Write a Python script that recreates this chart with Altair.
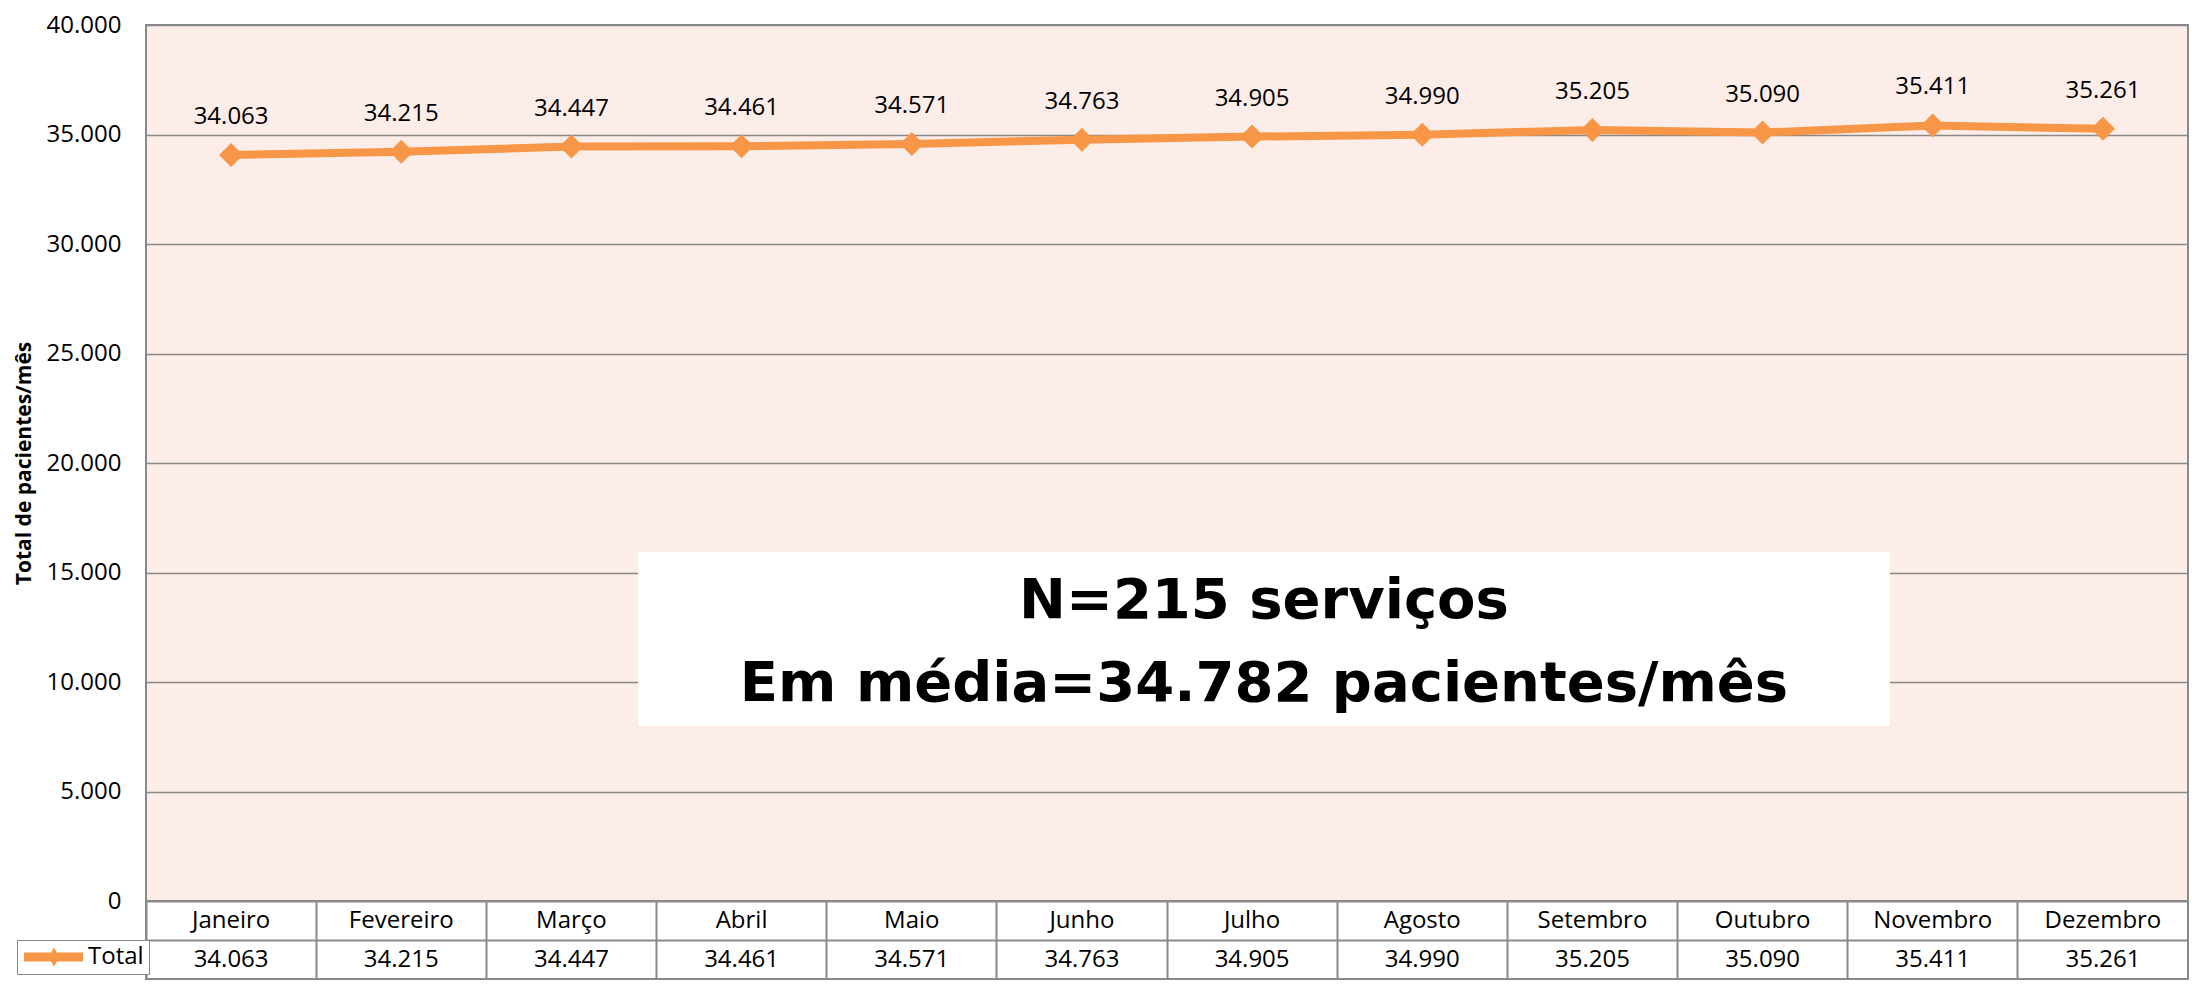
import altair as alt
import pandas as pd

# ---------------- data ----------------
months = ["Janeiro", "Fevereiro", "Março", "Abril", "Maio", "Junho",
          "Julho", "Agosto", "Setembro", "Outubro", "Novembro", "Dezembro"]
totals = [34063, 34215, 34447, 34461, 34571, 34763,
          34905, 34990, 35205, 35090, 35411, 35261]
series_name = "Total"
y_ticks = [0, 5000, 10000, 15000, 20000, 25000, 30000, 35000, 40000]
y_title = "Total de pacientes/mês"
annotation_lines = ["N=215 serviços", "Em média=34.782 pacientes/mês"]


def br(v):
    return f"{v:,}".replace(",", ".")


labels = [br(v) for v in totals]

df = pd.DataFrame({"Mês": months, "Total": totals, "Série": series_name, "Rótulo": labels})
table_df = pd.DataFrame({
    "Mês": months + months,
    "Linha": ["mes"] * len(months) + ["val"] * len(months),
    "Texto": months + labels,
})

# ---------------- style ----------------
ORANGE = "#F79646"
GRID = "#898989"
FILL = "#FCEDE9"
FONT = "Open Sans"
W = 2042
H = 876
ROW = 39

# ---------------- line panel ----------------
x_line = alt.X("Mês:N", sort=months, scale=alt.Scale(type="point", padding=0.5), axis=None)
y_line = alt.Y(
    "Total:Q",
    scale=alt.Scale(domain=[0, 40000], nice=False, zero=True),
    axis=alt.Axis(
        values=y_ticks,
        labelExpr="replace(format(datum.value, ',d'), ',', '.')",
        title=y_title,
        titleFontSize=21,
        titleFontWeight="bold",
        titleColor="black",
        titleFont=FONT,
        titlePadding=12,
        labelFontSize=24,
        labelFont=FONT,
        labelColor="black",
        labelPadding=25,
        ticks=False,
        domain=False,
        grid=True,
        gridColor=GRID,
        gridWidth=1.6,
    ),
)

line = alt.Chart(df).mark_line(
    color=ORANGE, strokeWidth=8,
    point=alt.OverlayMarkDef(shape="diamond", size=576, filled=True, color=ORANGE, opacity=1),
).encode(x=x_line, y=y_line)

value_text = alt.Chart(df).mark_text(
    dy=-38, fontSize=24, font=FONT, color="black", baseline="middle"
).encode(x=x_line, y=alt.Y("Total:Q"), text="Rótulo:N")

ann_df = pd.DataFrame({"k": [0]})
ann_box = alt.Chart(ann_df).mark_rect(color="white").encode(
    x=alt.value(492), x2=alt.value(1744), y=alt.value(527), y2=alt.value(701)
)
ann_text = alt.Chart(ann_df).mark_text(
    text=annotation_lines, fontSize=56, fontWeight="bold", font="DejaVu Sans",
    color="black", lineHeight=83, align="center", baseline="middle",
).encode(x=alt.value(1118), y=alt.value(576))

line_panel = alt.layer(ann_box, ann_text, line, value_text).properties(
    width=W, height=H,
    view=alt.ViewBackground(fill=FILL, stroke=GRID, strokeWidth=2),
)

# ---------------- table panel ----------------
x_tab = alt.X(
    "Mês:N", sort=months,
    scale=alt.Scale(type="band", paddingInner=0, paddingOuter=0),
    axis=alt.Axis(title=None, labels=False, ticks=False, domain=False, grid=True,
                  bandPosition=0, gridColor=GRID, gridWidth=2),
)
y_tab = alt.Y(
    "Linha:N", sort=["mes", "val"],
    scale=alt.Scale(type="band", paddingInner=0, paddingOuter=0),
    axis=alt.Axis(title=None, labels=False, ticks=False, domain=False, grid=True,
                  bandPosition=0, gridColor=GRID, gridWidth=2),
)

table_text = alt.Chart(table_df).mark_text(
    fontSize=24, font=FONT, color="black", baseline="middle"
).encode(x=x_tab, y=y_tab, text="Texto:N")

legend_path = "M-1,-0.45H4.9V0.45H-1Z M2,-0.95L2.55,0L2,0.95L1.45,0Z"
legend_pt = alt.Chart(df).transform_calculate(Linha="'val'").mark_point(
    filled=True, size=0, opacity=1
).encode(
    x=x_tab, y=y_tab,
    color=alt.Color(
        "Série:N",
        scale=alt.Scale(range=[ORANGE]),
        legend=alt.Legend(
            title=None, orient="none", legendX=-129, legendY=ROW,
            symbolType=legend_path, symbolSize=400, symbolStrokeWidth=0,
            symbolOpacity=1,
            labelFontSize=24, labelFont=FONT, labelColor="black", labelOffset=42,
            padding=5, strokeColor=GRID, fillColor="white",
        ),
    ),
)

table_panel = alt.layer(table_text, legend_pt).properties(
    width=W, height=2 * ROW,
    view=alt.ViewBackground(fill="white", stroke=GRID, strokeWidth=2),
)

chart = alt.vconcat(line_panel, table_panel, spacing=0, bounds="flush").resolve_legend(
    color="independent"
).properties(
    padding={"left": 4, "top": 4, "right": 0, "bottom": 0}, background="white"
).configure(font=FONT)

chart.save("out.html", embed_options={"renderer": "svg", "actions": False})
